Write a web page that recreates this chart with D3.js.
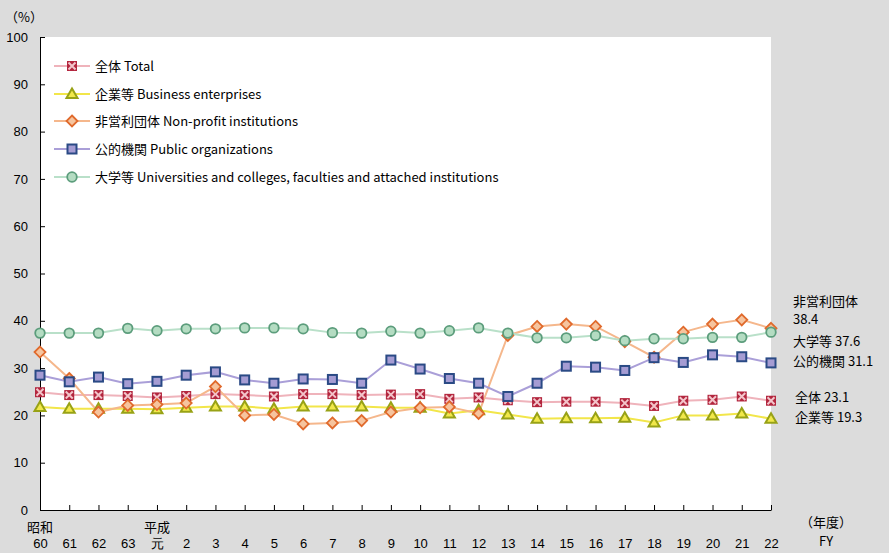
<!DOCTYPE html>
<html><head><meta charset="utf-8">
<script src="https://cdn.jsdelivr.net/npm/d3@7"></script>
<style>
body{margin:0;background:#dcdcdc;}
svg{display:block;font-family:"Noto Sans CJK JP","Noto Sans",sans-serif;}
</style></head>
<body><svg id="c" width="889" height="553"></svg>
<script>
const eraTop = ["昭和","","","","平成","","","","","","","","","","","","","","","","","","","","",""];
const yearLabels = ["60","61","62","63","元","2","3","4","5","6","7","8","9","10","11","12","13","14","15","16","17","18","19","20","21","22"];
const total      = [24.9,24.3,24.3,24.1,23.8,24.1,24.5,24.3,24.0,24.5,24.5,24.3,24.4,24.5,23.5,23.8,23.2,22.8,22.9,22.9,22.6,22.0,23.1,23.3,24.0,23.1];
const business   = [21.8,21.4,21.4,21.4,21.3,21.6,21.9,21.9,21.4,21.9,21.9,21.9,21.6,21.6,20.4,21.1,20.2,19.3,19.4,19.4,19.5,18.5,20.0,20.0,20.4,19.3];
const nonprofit  = [33.4,27.8,20.7,22.1,22.3,22.6,26.1,20.0,20.2,18.2,18.4,18.9,20.7,21.6,21.8,20.4,36.9,38.8,39.3,38.8,35.6,32.3,37.6,39.3,40.2,38.4];
const publicOrg  = [28.5,27.1,28.1,26.7,27.2,28.5,29.2,27.5,26.8,27.7,27.6,26.8,31.7,29.8,27.8,26.8,24.0,26.8,30.4,30.2,29.5,32.2,31.2,32.8,32.4,31.1];
const university = [37.4,37.4,37.4,38.4,37.9,38.3,38.3,38.5,38.5,38.3,37.5,37.4,37.8,37.4,37.9,38.5,37.4,36.4,36.4,36.9,35.8,36.2,36.2,36.5,36.5,37.6];
const yTicks = [0,10,20,30,40,50,60,70,80,90,100];
const seriesNames = ["全体 Total","企業等 Business enterprises","非営利団体 Non-profit institutions","公的機関 Public organizations","大学等 Universities and colleges, faculties and attached institutions"];
const endLabels = [["全体 23.1"],["企業等 19.3"],["非営利団体","38.4"],["公的機関 31.1"],["大学等 37.6"]];

const series = [
  {name:seriesNames[0], values:total, line:"#efb3bb", shape:"xsq", fill:"#b3263e", stroke:"#f3c4ca"},
  {name:seriesNames[1], values:business, line:"#f2e64a", shape:"tri", fill:"#f1e84a", stroke:"#98a216"},
  {name:seriesNames[2], values:nonprofit, line:"#f5b78c", shape:"dia", fill:"#f6c49e", stroke:"#e06a2c"},
  {name:seriesNames[3], values:publicOrg, line:"#aa9fd8", shape:"sq", fill:"#a59cd3", stroke:"#2a4a85"},
  {name:seriesNames[4], values:university, line:"#b9e0c9", shape:"circ", fill:"#b4dcc2", stroke:"#5c9d7c"}
];

const svg = d3.select("#c");
const L=40, R=771, T=37, B=510;
const x = d3.scalePoint().domain(d3.range(yearLabels.length)).range([L,R]);
const y = d3.scaleLinear().domain([0,100]).range([B,T]);

svg.append("rect").attr("x",L).attr("y",T).attr("width",R-L).attr("height",B-T).attr("fill","#fff");

// axes
const yAxis = svg.append("g").attr("transform",`translate(${L},0)`)
  .call(d3.axisLeft(y).tickValues(yTicks).tickSizeInner(-5).tickSizeOuter(0).tickPadding(12));
yAxis.select(".domain").attr("stroke","#000");
yAxis.selectAll("line").attr("stroke","#000");
yAxis.selectAll("text").attr("font-size",13).attr("fill","#000").attr("font-family","Liberation Sans, Arial, sans-serif");

const xAxis = svg.append("g").attr("transform",`translate(0,${B})`)
  .call(d3.axisBottom(x).tickFormat(i=>yearLabels[i]).tickSizeInner(-5).tickSizeOuter(0).tickPadding(0));
xAxis.select(".domain").attr("stroke","#000");
xAxis.selectAll("line").attr("stroke","#000");
xAxis.selectAll("text").attr("font-size",13).attr("fill","#000").attr("dy",null).attr("y",38);
svg.append("g").selectAll("text").data(eraTop.map((t,i)=>({t,i})).filter(d=>d.t))
  .join("text").attr("x",d=>x(d.i)).attr("y",532).attr("text-anchor","middle")
  .attr("font-size",13).text(d=>d.t);

svg.append("text").attr("x",5).attr("y",22).attr("font-size",13).text("（%）");
svg.append("text").attr("x",826).attr("y",527).attr("text-anchor","middle").attr("font-size",13).text("（年度）");
svg.append("text").attr("x",826).attr("y",546).attr("text-anchor","middle").attr("font-size",13).text("FY");

function marker(g, shape, fill, stroke){
  if(shape==="xsq"){
    g.append("rect").attr("x",-5).attr("y",-5).attr("width",10).attr("height",10).attr("fill",fill);
    g.append("path").attr("d","M-3.5,-3.5L3.5,3.5M3.5,-3.5L-3.5,3.5").attr("stroke",stroke).attr("stroke-width",2);
  } else if(shape==="tri"){
    g.append("path").attr("d","M0,-5.5L5.5,4L-5.5,4Z").attr("fill",fill).attr("stroke",stroke).attr("stroke-width",2);
  } else if(shape==="dia"){
    g.append("path").attr("d","M0,-5.5L5.5,0L0,5.5L-5.5,0Z").attr("fill",fill).attr("stroke",stroke).attr("stroke-width",1.8);
  } else if(shape==="sq"){
    g.append("rect").attr("x",-4.5).attr("y",-4.5).attr("width",9).attr("height",9).attr("fill",fill).attr("stroke",stroke).attr("stroke-width",2);
  } else {
    g.append("circle").attr("r",4.8).attr("fill",fill).attr("stroke",stroke).attr("stroke-width",1.8);
  }
}

const line = d3.line().x((d,i)=>x(i)).y(d=>y(d));
series.forEach(s=>{
  svg.append("path").datum(s.values).attr("d",line).attr("fill","none").attr("stroke",s.line).attr("stroke-width",2);
});
series.forEach(s=>{
  s.values.forEach((v,i)=>{
    const g = svg.append("g").attr("transform",`translate(${x(i)},${y(v)})`);
    marker(g, s.shape, s.fill, s.stroke);
  });
});

// legend
const legY = [66,94,121,149,177];
series.forEach((s,k)=>{
  const g = svg.append("g").attr("transform",`translate(0,${legY[k]})`);
  g.append("line").attr("x1",54).attr("x2",90).attr("stroke",s.line).attr("stroke-width",2);
  const m = g.append("g").attr("transform","translate(72,0)");
  marker(m, s.shape, s.fill, s.stroke);
  g.append("text").attr("x",95).attr("y",5).attr("font-size",13).text(s.name);
});

// end labels
const endPos = [[397],[417],[301,319],[361],[341]];
endLabels.forEach((lines,k)=>{
  lines.forEach((t,j)=>{
    svg.append("text").attr("x", k<2?795:793).attr("y",endPos[k][j]+5).attr("font-size",13).text(t);
  });
});
</script></body></html>
